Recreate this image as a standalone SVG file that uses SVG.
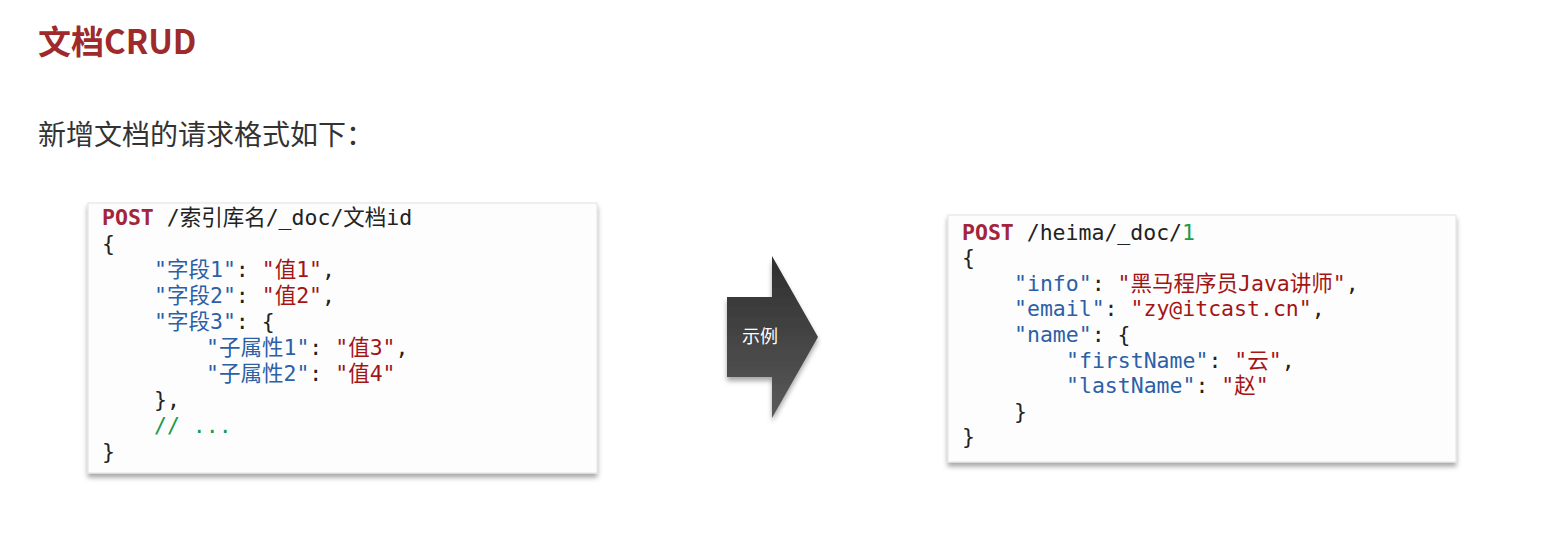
<svg xmlns="http://www.w3.org/2000/svg" width="1568" height="537" viewBox="0 0 1568 537">
<defs>
<style>
.title{font-family:"Noto Sans CJK SC","Liberation Sans",sans-serif;font-weight:bold;font-size:33px;fill:#9e2a2b}
.sub{font-family:"Noto Sans CJK SC","Liberation Sans",sans-serif;font-size:28px;fill:#333}
.code{font-family:"DejaVu Sans Mono","Noto Sans CJK SC",monospace;font-size:21.5px;fill:#222}
.kw{fill:#a3243b;font-weight:bold}
.k{fill:#2b5fa8}
.v{fill:#a31515}
.c{fill:#1a9a4a}
.box{fill:#fdfdfd;stroke:#e2e2e2;stroke-width:1}
.lbl{font-family:"Noto Sans CJK SC","Liberation Sans",sans-serif;font-size:18px;fill:#ffffff}
</style>
<filter id="sh" x="-5%" y="-5%" width="110%" height="115%">
<feDropShadow dx="0" dy="4" stdDeviation="2.5" flood-color="#000" flood-opacity="0.35"/>
</filter>
<linearGradient id="ag" x1="0" y1="0" x2="0" y2="1">
<stop offset="0" stop-color="#2e2e2e"/>
<stop offset="1" stop-color="#5a5a5a"/>
</linearGradient>
</defs>
<rect width="1568" height="537" fill="#ffffff"/>
<text class="title" x="38" y="54">文档CRUD</text>
<text class="sub" x="38" y="145">新增文档的请求格式如下：</text>

<g id="template">
<rect class="box" x="88" y="203" width="509" height="270" filter="url(#sh)"/>
<text class="code" x="102" y="224.5"><tspan class="kw">POST</tspan> /索引库名/_doc/文档id</text>
<text class="code" x="102" y="250.5">{</text>
<text class="code" x="154" y="276.5"><tspan class="k">"字段1"</tspan>: <tspan class="v">"值1"</tspan>,</text>
<text class="code" x="154" y="302.5"><tspan class="k">"字段2"</tspan>: <tspan class="v">"值2"</tspan>,</text>
<text class="code" x="154" y="328.5"><tspan class="k">"字段3"</tspan>: {</text>
<text class="code" x="206" y="355"><tspan class="k">"子属性1"</tspan>: <tspan class="v">"值3"</tspan>,</text>
<text class="code" x="206" y="381"><tspan class="k">"子属性2"</tspan>: <tspan class="v">"值4"</tspan></text>
<text class="code" x="154" y="407">},</text>
<text class="code c" x="154" y="433">// ...</text>
<text class="code" x="102" y="459">}</text>
</g>

<g id="example-arrow">
<polygon points="727,297 772,297 772,256 818,337 772,418 772,377 727,377" fill="url(#ag)" filter="url(#sh)"/>
<text class="lbl" x="760" y="343" text-anchor="middle">示例</text>
</g>

<g id="example">
<rect class="box" x="948" y="215" width="508" height="247" filter="url(#sh)"/>
<text class="code" x="962" y="239.5"><tspan class="kw">POST</tspan> /heima/_doc/<tspan class="c">1</tspan></text>
<text class="code" x="962" y="265">{</text>
<text class="code" x="1014" y="290.5"><tspan class="k">"info"</tspan>: <tspan class="v">"黑马程序员Java讲师"</tspan>,</text>
<text class="code" x="1014" y="316"><tspan class="k">"email"</tspan>: <tspan class="v">"zy@itcast.cn"</tspan>,</text>
<text class="code" x="1014" y="341.5"><tspan class="k">"name"</tspan>: {</text>
<text class="code" x="1066" y="367.5"><tspan class="k">"firstName"</tspan>: <tspan class="v">"云"</tspan>,</text>
<text class="code" x="1066" y="393"><tspan class="k">"lastName"</tspan>: <tspan class="v">"赵"</tspan></text>
<text class="code" x="1014" y="418.5">}</text>
<text class="code" x="962" y="444">}</text>
</g>
<g id="connectors"></g>
</svg>
